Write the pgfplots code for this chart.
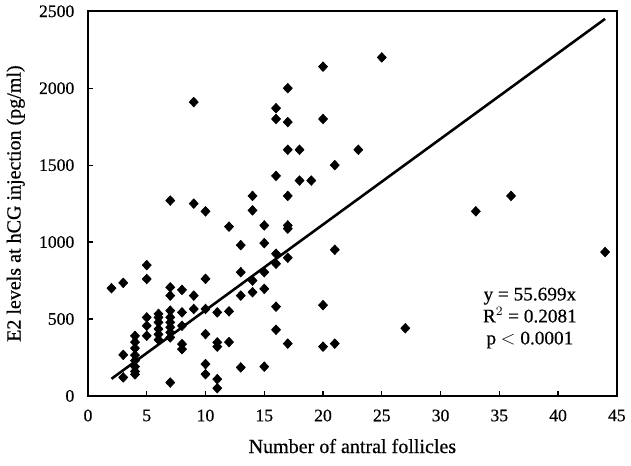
\documentclass[border=0pt]{standalone}
\usepackage{fontspec}
\setmainfont{Liberation Serif}[FakeBold=0.5]
\usepackage{pgfplots}
\pgfplotsset{compat=1.18}
\usepackage{pgfplotstable}

% antral follicle count vs E2 at hCG
\pgfplotstableread{
x y
2 700
3 735
3 267
3 120
4 390
4 350
4 310
4 265
4 230
4 190
4 160
4 140
5 850
5 760
5 510
5 456
5 391
6 533
6 510
6 478
6 435
6 400
6 365
7 1270
7 706
7 652
7 554
7 511
7 478
7 446
7 413
7 380
7 87
8 689
8 543
8 456
8 337
8 304
9 1910
9 1250
9 652
9 565
10 1200
10 761
10 565
10 402
10 207
10 141
11 543
11 348
11 320
11 109
11 50
12 1100
12 550
12 350
13 980
13 804
13 652
13 185
14 1300
14 1206
14 750
14 674
15 1108
15 993
15 804
15 696
15 190
16 1870
16 1800
16 1430
16 924
16 859
16 580
16 430
17 2000
17 1780
17 1600
17 1300
17 1108
17 1087
17 898
17 340
18 1600
18 1400
19 1400
20 2140
20 1800
20 590
20 320
21 1500
21 950
21 340
23 1600
25 2200
27 440
33 1200
36 1300
44 935
}\follicles

\begin{document}
\begin{tikzpicture}
\begin{axis}[
  scale only axis,
  width=330pt, height=240pt,
  xmin=0, xmax=45, ymin=0, ymax=2500,
  xtick={0,5,...,45},
  ytick={0,500,...,2500},
  xtick pos=bottom, ytick pos=left,
  tick align=inside,
  major tick length=3pt,
  axis line style={line width=1.2pt},
  tick style={line width=0.8pt, black},
  /pgf/number format/assume math mode=true,
  /pgf/number format/1000 sep={},
  ticklabel style={font=\fontsize{11}{13}\selectfont},
  xticklabel style={yshift=-5pt},
  yticklabel style={xshift=-5pt},
  xlabel={Number of antral follicles},
  ylabel={E2 levels at hCG injection (pg/ml)},
  label style={font=\fontsize{12.5}{14}\selectfont},
  xlabel style={yshift=-4pt},
  ylabel style={yshift=2pt},
  clip=false,
]
\addplot[only marks, mark=diamond*, mark size=3pt, black,
  mark options={xscale=1.25}] table {\follicles};
\addplot[black, line width=1.6pt] coordinates {(2,111.4) (44,2450.8)};
\node[align=center, font=\fontsize{12}{13.7}\selectfont] at (axis cs:37.6,506)
  {y = 55.699x\\R$^{2}$ = 0.2081\\p $<$ 0.0001};
\end{axis}
\path (current axis.south west) ++(-54.9pt,-43.7pt);
\path (current axis.north east) ++(8.7pt,5pt);
\end{tikzpicture}
\end{document}
